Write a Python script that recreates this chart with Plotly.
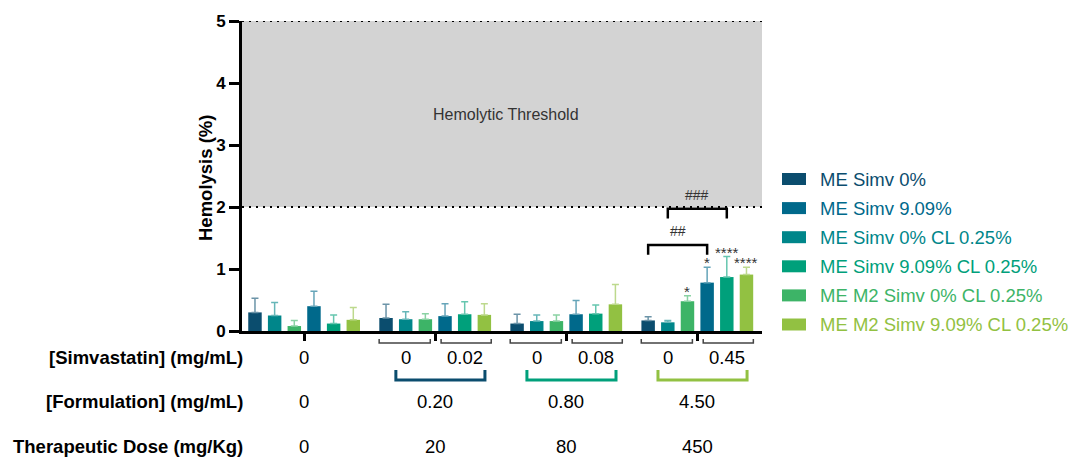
import plotly.graph_objects as go

# ---------------- data ----------------
formulation = ["0", "0.20", "0.80", "4.50"]          # [Formulation] (mg/mL)
dose = ["0", "20", "80", "450"]                       # Therapeutic Dose (mg/Kg)
simv_low = ["0", "0", "0"]                            # [Simvastatin] for 0% Simv subgroups
simv_high = ["0.02", "0.08", "0.45"]                  # [Simvastatin] for 9.09% Simv subgroups

series_names = ["ME Simv 0%", "ME Simv 9.09%", "ME Simv 0% CL 0.25%",
                "ME Simv 9.09% CL 0.25%", "ME M2 Simv 0% CL 0.25%",
                "ME M2 Simv 9.09% CL 0.25%"]
series_colors = ["#0b4d6e", "#00698b", "#00868a", "#00a07b", "#3db467", "#92c142"]
series_slot = [0, 3, 1, 4, 2, 5]   # position of each series inside a dose group

me_simv0 = [0.30, 0.21, 0.12, 0.17]
me_simv0_err = [0.23, 0.22, 0.15, 0.06]
me_simv9 = [0.40, 0.24, 0.27, 0.78]
me_simv9_err = [0.24, 0.20, 0.22, 0.25]
me_simv0_cl = [0.25, 0.19, 0.16, 0.14]
me_simv0_cl_err = [0.21, 0.12, 0.10, 0.03]
me_simv9_cl = [0.12, 0.27, 0.28, 0.87]
me_simv9_cl_err = [0.14, 0.20, 0.14, 0.33]
m2_simv0_cl = [0.08, 0.19, 0.16, 0.48]
m2_simv0_cl_err = [0.09, 0.09, 0.10, 0.09]
m2_simv9_cl = [0.18, 0.26, 0.43, 0.91]
m2_simv9_cl_err = [0.20, 0.18, 0.32, 0.12]

values = [me_simv0, me_simv9, me_simv0_cl, me_simv9_cl, m2_simv0_cl, m2_simv9_cl]
errors = [me_simv0_err, me_simv9_err, me_simv0_cl_err, me_simv9_cl_err,
          m2_simv0_cl_err, m2_simv9_cl_err]

# significance marks: (series index, group index, label)
stars = [(4, 3, "*"), (1, 3, "*"), (3, 3, "****"), (5, 3, "****")]
# comparison brackets: (series a, series b, group, label)
comparisons = [(0, 1, 3, "##"), (2, 3, 3, "###")]

threshold_low, threshold_high = 2, 5

# ---------------- layout helpers ----------------
GROUP_STEP = 6.665
FONT = "Liberation Sans, Arial, sans-serif"
PLOT_L, PLOT_R, PLOT_T, PLOT_B = 242, 762, 21, 331
TXT = 18.5


def pos(g, slot):
    return g * GROUP_STEP + slot


def py(pix):  # pixel y -> paper y
    return (PLOT_B - pix) / (PLOT_B - PLOT_T)


def px(pix):  # pixel x -> paper x
    return (pix - PLOT_L) / (PLOT_R - PLOT_L)


def tint(hexcol, f=0.4):
    h = hexcol.lstrip("#")
    r, g, b = (int(h[i:i + 2], 16) for i in (0, 2, 4))
    r, g, b = (int(c + (255 - c) * f) for c in (r, g, b))
    return f"rgb({r},{g},{b})"


fig = go.Figure()
for i, name in enumerate(series_names):
    fig.add_trace(go.Bar(
        x=[pos(g, series_slot[i]) for g in range(len(formulation))],
        y=values[i],
        width=0.685,
        name=name,
        marker=dict(color=series_colors[i], line=dict(width=0)),
        error_y=dict(type="data", array=errors[i], arrayminus=[0] * len(errors[i]),
                     symmetric=False, color=tint(series_colors[i]), thickness=1.5, width=3.5),
        showlegend=False,
    ))

shapes = []
annotations = []


def note(text, x, y, xref="paper", yref="paper", xanchor="center", yanchor="middle",
         size=TXT, color="black", **kw):
    annotations.append(dict(text=text, x=x, y=y, xref=xref, yref=yref, xanchor=xanchor,
                            yanchor=yanchor, showarrow=False,
                            font=dict(family=FONT, size=size, color=color), **kw))


# hemolytic threshold region
shapes.append(dict(type="rect", xref="paper", yref="y", x0=0, x1=1,
                   y0=threshold_low, y1=threshold_high, fillcolor="#d3d3d3",
                   line=dict(width=0), layer="below"))
for yv in (threshold_low, threshold_high):
    shapes.append(dict(type="line", xref="paper", yref="y", x0=0, x1=1, y0=yv, y1=yv,
                       line=dict(color="black", width=2, dash="2px,5px")))
note("Hemolytic Threshold", px(506), (threshold_low + threshold_high) / 2, yref="y",
     size=16, color="#333333")

# y-axis title
note("<b>Hemolysis (%)</b>", px(205), py(178), textangle=-90)

# significance stars
for si, g, lab in stars:
    x = pos(g, series_slot[si])
    top = values[si][g] + errors[si][g]
    note(lab, x, top, xref="x", yref="y", yanchor="bottom", yshift=-6, size=15,
         color="#333333")

# comparison brackets
bracket_tops = [1.386, 1.97]
for (a, b, g, lab), ytop in zip(comparisons, bracket_tops):
    xa, xb = pos(g, series_slot[a]), pos(g, series_slot[b])
    leg = 0.155
    shapes.append(dict(type="path", xref="x", yref="y",
                       path=f"M {xa} {ytop - leg} L {xa} {ytop} L {xb} {ytop} L {xb} {ytop - leg}",
                       line=dict(color="black", width=2.5)))
    note(lab, (xa + xb) / 2, ytop, xref="x", yref="y", yanchor="bottom", yshift=4,
         size=14, color="#333333")

# row labels
row_y = [py(357), py(401.5), py(446.5)]
row_labels = ["[Simvastatin] (mg/mL)", "[Formulation] (mg/mL)", "Therapeutic Dose (mg/Kg)"]
for lab, yv in zip(row_labels, row_y):
    note(f"<b>{lab}</b>", px(245), yv, xanchor="right")

group_centers = [pos(g, 2.5) for g in range(len(formulation))]
bracket_colors = ["#0b4d6e", "#00a07b", "#92c142"]

# control group simvastatin
note("0", group_centers[0], row_y[0], xref="x")
for k in range(len(simv_low)):
    g = k + 1
    for slot, lab in ((1, simv_low[k]), (4, simv_high[k])):
        note(lab, pos(g, slot), row_y[0], xref="x")
    # thin subgroup brackets
    for s0, s1 in ((-0.35, 2.25), (2.8, 5.35)):
        xa, xb = pos(g, s0), pos(g, s1)
        shapes.append(dict(type="path", xref="x", yref="paper",
                           path=f"M {xa} {py(339)} L {xa} {py(343)} L {xb} {py(343)} L {xb} {py(339)}",
                           line=dict(color="#444444", width=1.5)))
    # colored formulation bracket
    xa, xb = pos(g, 0.5), pos(g, 5.03)
    shapes.append(dict(type="path", xref="x", yref="paper",
                       path=f"M {xa} {py(370)} L {xa} {py(380)} L {xb} {py(380)} L {xb} {py(370)}",
                       line=dict(color=bracket_colors[k], width=3)))

for g in range(len(formulation)):
    note(formulation[g], group_centers[g], row_y[1], xref="x")
    note(dose[g], group_centers[g], row_y[2], xref="x")

# manual legend
for i, name in enumerate(series_names):
    cy = 179 + i * 29.1
    shapes.append(dict(type="rect", xref="paper", yref="paper", x0=px(782), x1=px(806),
                       y0=py(cy + 6), y1=py(cy - 6), fillcolor=series_colors[i],
                       line=dict(width=0)))
    note(name, px(818), py(cy), xanchor="left", color=series_colors[i])

fig.update_layout(
    width=1073, height=457,
    margin=dict(l=PLOT_L, r=1073 - PLOT_R, t=PLOT_T, b=457 - PLOT_B, pad=0),
    plot_bgcolor="white", paper_bgcolor="white",
    barmode="overlay",
    shapes=shapes, annotations=annotations,
    font=dict(family=FONT),
    xaxis=dict(range=[-0.66, pos(3, 5) + 0.79], showgrid=False, zeroline=False,
               showline=True, linecolor="black", linewidth=3,
               tickmode="array", tickvals=group_centers, ticktext=["" for _ in group_centers],
               ticks="outside", ticklen=7, tickwidth=3, tickcolor="black",
               showticklabels=False, fixedrange=True),
    yaxis=dict(range=[0, 5], showgrid=False, zeroline=False, showline=True,
               linecolor="black", linewidth=3, tickmode="array", tickvals=[0, 1, 2, 3, 4, 5],
               ticks="outside", ticklen=10, tickwidth=3, tickcolor="black",
               tickfont=dict(family=FONT, size=17, color="black", weight="bold")),
)

fig.write_html("out.html")
